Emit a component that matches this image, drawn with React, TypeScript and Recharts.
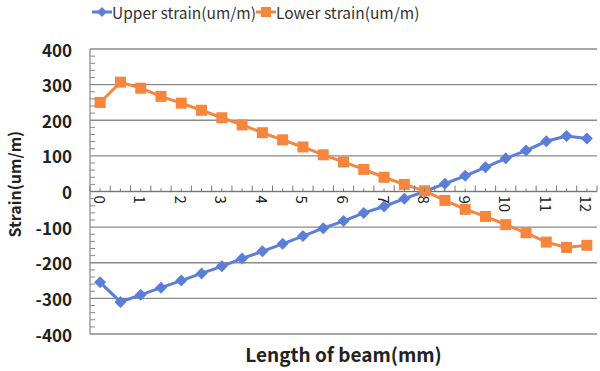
import React from "react";
import { LineChart, Line, XAxis, YAxis, ReferenceLine, CartesianGrid } from "recharts";

const positions = ["0", "0.5", "1", "1.5", "2", "2.5", "3", "3.5", "4", "4.5", "5", "5.5", "6",
  "6.5", "7", "7.5", "8", "8.5", "9", "9.5", "10", "10.5", "11", "11.5", "12"];
const upperStrain = [-255, -310, -290, -270, -250, -230, -210, -188, -168, -147, -125, -103, -83,
  -60, -42, -20, 0, 22, 44, 68, 93, 115, 141, 156, 149];
const lowerStrain = [250, 307, 290, 267, 248, 228, 207, 187, 165, 145, 125, 103, 83,
  62, 40, 20, 2, -25, -50, -70, -93, -116, -142, -157, -151];
const yTicks = [-400, -300, -200, -100, 0, 100, 200, 300, 400];
const yMinorSteps = [1, 2, 3, 4];

const data = positions.map((p, i) => ({ pos: p, upper: upperStrain[i], lower: lowerStrain[i] }));

const BLUE = "#5b7fd8";
const ORANGE = "#f7863c";
const GRID = "#8a8a8a";
const FONT = "'Noto Sans CJK KR', 'Noto Sans', sans-serif";

const W = 600;
const H = 371;
const PLOT_LEFT = 90;
const PLOT_RIGHT = 597;
const PLOT_TOP = 49;
const PLOT_BOTTOM = 334;
const ZERO_Y = (PLOT_TOP + PLOT_BOTTOM) / 2;
const BAND = (PLOT_RIGHT - PLOT_LEFT) / positions.length;
const MINOR_STEP = (PLOT_BOTTOM - PLOT_TOP) / 40;

const Diamond = (props: any) => {
  const { cx, cy } = props;
  if (cx == null || cy == null) return null;
  const r = 6;
  return <polygon points={`${cx},${cy - r} ${cx + r},${cy} ${cx},${cy + r} ${cx - r},${cy}`} fill={BLUE} />;
};

const Square = (props: any) => {
  const { cx, cy } = props;
  if (cx == null || cy == null) return null;
  const s = 11;
  return <rect x={cx - s / 2} y={cy - s / 2} width={s} height={s} fill={ORANGE} />;
};

// x labels sit on the zero line, rotated, with ticks pointing up
const ZeroAxisTick = (props: any) => {
  const { x, payload, index } = props;
  const label = String(payload.value);
  const isInt = !label.includes(".");
  return (
    <g>
      <line x1={x} x2={x} y1={ZERO_Y} y2={ZERO_Y - 3} stroke="#777" />
      <line x1={x - BAND / 2} x2={x - BAND / 2} y1={ZERO_Y} y2={ZERO_Y - 6} stroke="#777" />
      {index === positions.length - 1 && (
        <line x1={x + BAND / 2} x2={x + BAND / 2} y1={ZERO_Y} y2={ZERO_Y - 6} stroke="#777" />
      )}
      {isInt && (
        <text x={x} y={ZERO_Y + 4} transform={`rotate(90, ${x}, ${ZERO_Y + 4})`}
          dominantBaseline="central" textAnchor="start" fontSize={15} fill="#222" fontFamily={FONT}>
          {label}
        </text>
      )}
    </g>
  );
};

// label for each 100, plus the small inward ticks below it
const YTick = (props: any) => {
  const { y, payload } = props;
  const v = Number(payload.value);
  return (
    <g>
      {v > -400 && yMinorSteps.map((k) => (
        <line key={k} x1={PLOT_LEFT} x2={PLOT_LEFT + 5} y1={y + k * MINOR_STEP} y2={y + k * MINOR_STEP} stroke="#888" />
      ))}
      <text x={PLOT_LEFT - 18} y={y} textAnchor="end" dominantBaseline="central" fontSize={17}
        fontWeight="bold" fill="#222" fontFamily={FONT}>{v}</text>
    </g>
  );
};

const LegendBar = () => (
  <div style={{ position: "absolute", left: 92, top: 0, display: "flex", alignItems: "center", height: 24,
    fontFamily: FONT, fontSize: 15.5, color: "#333" }}>
    <svg width={20} height={12}>
      <line x1={0} x2={20} y1={6} y2={6} stroke={BLUE} strokeWidth={3} />
      <polygon points="10,1 15,6 10,11 5,6" fill={BLUE} />
    </svg>
    <span>Upper strain(um/m)</span>
    <svg width={20} height={12}>
      <line x1={0} x2={20} y1={6} y2={6} stroke={ORANGE} strokeWidth={3} />
      <rect x={5} y={1} width={10} height={10} fill={ORANGE} />
    </svg>
    <span>Lower strain(um/m)</span>
  </div>
);

export default function App() {
  return (
    <div style={{ position: "absolute", left: 0, top: 0, width: W, height: H, background: "#fff" }}>
      <LineChart width={W} height={H} data={data}
        margin={{ top: PLOT_TOP, right: W - PLOT_RIGHT, bottom: H - PLOT_BOTTOM - 2, left: PLOT_LEFT - 60 }}>
        <CartesianGrid vertical={false} stroke={GRID} strokeWidth={1.3} />
        <XAxis dataKey="pos" scale="band" interval={0} height={2} axisLine={false} tickLine={false}
          tick={<ZeroAxisTick />}
          label={{ value: "Length of beam(mm)", position: "insideBottom", dy: 31, fontSize: 19,
            fontWeight: "bold", fill: "#222", fontFamily: FONT }} />
        <YAxis domain={[-400, 400]} ticks={yTicks} interval={0} width={60}
          axisLine={{ stroke: "#888", strokeWidth: 1.2 }} tickLine={false} tick={<YTick />}
          label={{ value: "Strain(um/m)", angle: -90, position: "insideLeft", dx: -20, dy: 46,
            fontSize: 16, fontWeight: "bold", fill: "#222", fontFamily: FONT }} />
        <ReferenceLine y={0} stroke="#777" strokeWidth={1.2} />
        <Line dataKey="upper" stroke={BLUE} strokeWidth={3} dot={<Diamond />} activeDot={false} isAnimationActive={false} />
        <Line dataKey="lower" stroke={ORANGE} strokeWidth={3} dot={<Square />} activeDot={false} isAnimationActive={false} />
      </LineChart>
      <LegendBar />
    </div>
  );
}
